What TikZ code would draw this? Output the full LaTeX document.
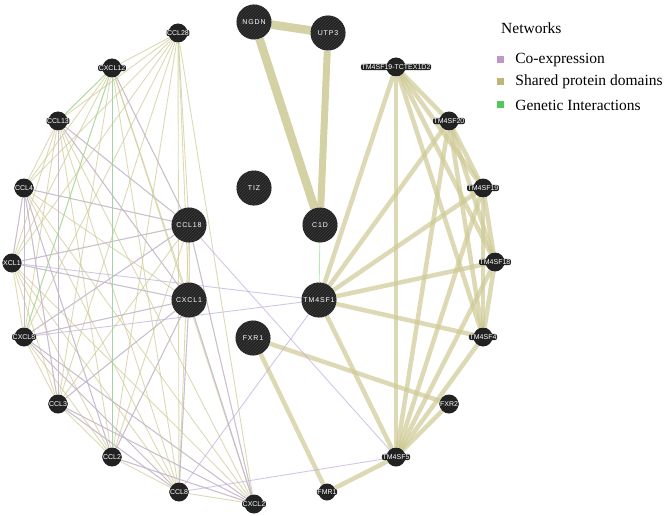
\documentclass[tikz,border=0pt]{standalone}
\usepackage{fontspec}
\setmainfont{Liberation Serif}
\newfontfamily\genefont{Liberation Sans}
\newfontfamily\hubfont[LetterSpace=12]{Liberation Sans}
\usetikzlibrary{backgrounds,patterns,positioning}
\definecolor{nodegray}{RGB}{34,34,34}
\definecolor{stripe}{RGB}{62,62,62}
\definecolor{domain}{RGB}{205,201,148}
\definecolor{coexp}{RGB}{196,178,222}
\definecolor{genetic}{RGB}{150,222,150}
\definecolor{domainkey}{RGB}{190,182,118}
\definecolor{coexpkey}{RGB}{190,150,200}
\definecolor{genetickey}{RGB}{80,200,90}
\tikzset{
  gene/.style={circle, fill=nodegray, inner sep=0pt, minimum size=19pt},
  hub/.style={gene, minimum size=35pt,
    postaction={pattern=north east lines, pattern color=stripe}},
  tag/.style={font=\genefont\fontsize{7}{8}\selectfont, text=white,
    fill=nodegray, rounded corners=2pt, inner sep=0.6pt},
  hubtag/.style={font=\hubfont\fontsize{7}{8}\selectfont, text=white, inner sep=0pt},
  soft/.style={draw=domain, line width=.9pt, opacity=.7},
  coex/.style={draw=coexp, line width=.9pt, opacity=.75},
  gen/.style={draw=genetic, line width=.8pt, opacity=.7},
  heavy/.style={draw=domain, line width=4.5pt, opacity=.7},
  huge/.style={draw=domain, line width=8.5pt, opacity=.85},
  keybox/.style={minimum size=7pt, inner sep=0pt},
  keytext/.style={font=\fontsize{15.5}{18}\selectfont, inner sep=0pt}
}
\def\chemokines{ccl28,cxcl12,ccl13,ccl4,xcl1,cxcl8,ccl3,ccl2,ccl8,cxcl2,ccl18,cxcl1}
\def\tmfamily{tm4sf1,tm4sf19tc,tm4sf20,tm4sf19,tm4sf18,tm4sf4,tm4sf5}

\begin{document}
\begin{tikzpicture}[x=1pt,y=-1pt]
  \useasboundingbox (0,0) rectangle (669,516);
  % chemokine ring
  \node[gene, label={[tag]center:CCL28}] (ccl28) at (178,33) {};
  \node[gene, label={[tag]center:CXCL12}] (cxcl12) at (112,68) {};
  \node[gene, label={[tag]center:CCL13}] (ccl13) at (58,121) {};
  \node[gene, label={[tag]center:CCL4}] (ccl4) at (24,188) {};
  \node[gene, label={[tag]center:XCL1}] (xcl1) at (12,263) {};
  \node[gene, label={[tag]center:CXCL8}] (cxcl8) at (24,337) {};
  \node[gene, label={[tag]center:CCL3}] (ccl3) at (58,404) {};
  \node[gene, label={[tag]center:CCL2}] (ccl2) at (112,457) {};
  \node[gene, label={[tag]center:CCL8}] (ccl8) at (179,492) {};
  \node[gene, label={[tag]center:CXCL2}] (cxcl2) at (254,504) {};
  \node[hub, label={[hubtag]center:CCL18}] (ccl18) at (189,225) {};
  \node[hub, label={[hubtag]center:CXCL1}] (cxcl1) at (189,300) {};
  % middle column
  \node[hub, label={[hubtag]center:NGDN}] (ngdn) at (254,22) {};
  \node[hub, label={[hubtag]center:UTP3}] (utp3) at (328,33) {};
  \node[hub, label={[hubtag]center:TIZ}] (tiz) at (254,188) {};
  \node[hub, label={[hubtag]center:C1D}] (c1d) at (320,225) {};
  \node[hub, label={[hubtag]center:TM4SF1}] (tm4sf1) at (319,300) {};
  \node[hub, label={[hubtag]center:FXR1}] (fxr1) at (253,338) {};
  \node[gene, minimum size=17pt, label={[tag]center:FMR1}] (fmr1) at (327,492) {};
  % tetraspanin ring
  \node[gene, label={[tag]center:TM4SF19-TCTEX1D2}] (tm4sf19tc) at (396,67) {};
  \node[gene, label={[tag]center:TM4SF20}] (tm4sf20) at (449,121) {};
  \node[gene, label={[tag]center:TM4SF19}] (tm4sf19) at (483,188) {};
  \node[gene, label={[tag]center:TM4SF18}] (tm4sf18) at (495,262) {};
  \node[gene, label={[tag]center:TM4SF4}] (tm4sf4) at (483,337) {};
  \node[gene, label={[tag]center:FXR2}] (fxr2) at (449,404) {};
  \node[gene, label={[tag]center:TM4SF5}] (tm4sf5) at (396,457) {};

  \begin{pgfonlayer}{background}
    % shared protein domains
    \foreach \a [count=\i] in \chemokines {
      \foreach \b [count=\j] in \chemokines {
        \ifnum\j>\i \draw[soft] (\a) -- (\b); \fi
      }
    }
    \foreach \a [count=\i] in \tmfamily {
      \foreach \b [count=\j] in \tmfamily {
        \ifnum\j>\i \draw[heavy] (\a) -- (\b); \fi
      }
    }
    \draw[heavy] (fxr1) -- (fxr2);
    \draw[heavy] (fxr1) -- (fmr1);
    \draw[heavy] (fmr1) -- (tm4sf5);
    \draw[heavy] (tm4sf5) -- (fxr2);
    \draw[huge] (ngdn) -- (utp3);
    \draw[huge] (ngdn) -- (c1d);
    \draw[huge, line width=7pt] (utp3) -- (c1d);
    % co-expression
    \foreach \a/\b in {ccl4/ccl18, ccl4/cxcl8, ccl4/ccl3, ccl4/xcl1, ccl4/ccl2,
        ccl13/ccl3, ccl13/ccl18, ccl13/cxcl1, cxcl12/ccl18, cxcl12/ccl2,
        xcl1/ccl18, xcl1/cxcl1, cxcl8/cxcl1, cxcl8/ccl18, cxcl8/cxcl2,
        cxcl8/ccl8, ccl3/cxcl1, ccl3/ccl8, ccl3/cxcl2, ccl2/cxcl1,
        ccl2/cxcl2, ccl8/cxcl1, cxcl2/cxcl1, ccl18/cxcl2,
        xcl1/tm4sf1, cxcl8/tm4sf1, ccl8/tm4sf1, ccl18/tm4sf5, ccl8/tm4sf5}
      \draw[coex] (\a) -- (\b);
    % genetic interactions
    \draw[gen] (cxcl12) -- (ccl2);
    \draw[gen] (cxcl12) -- (cxcl8);
    \draw[gen] (cxcl12) -- (ccl13);
    \draw[gen] (c1d) -- (tm4sf1);
  \end{pgfonlayer}

  % legend
  \node[keytext, anchor=west] (nettitle) at (501,28) {Networks};
  \node[keybox, fill=coexpkey] (key1) at (500,60) {};
  \node[keybox, fill=domainkey] (key2) at (500,82) {};
  \node[keybox, fill=genetickey] (key3) at (500,105) {};
  \node[keytext, right=11.5pt of key1] {Co-expression};
  \node[keytext, right=11.5pt of key2] {Shared protein domains};
  \node[keytext, right=11.5pt of key3] {Genetic Interactions};
\end{tikzpicture}
\end{document}
